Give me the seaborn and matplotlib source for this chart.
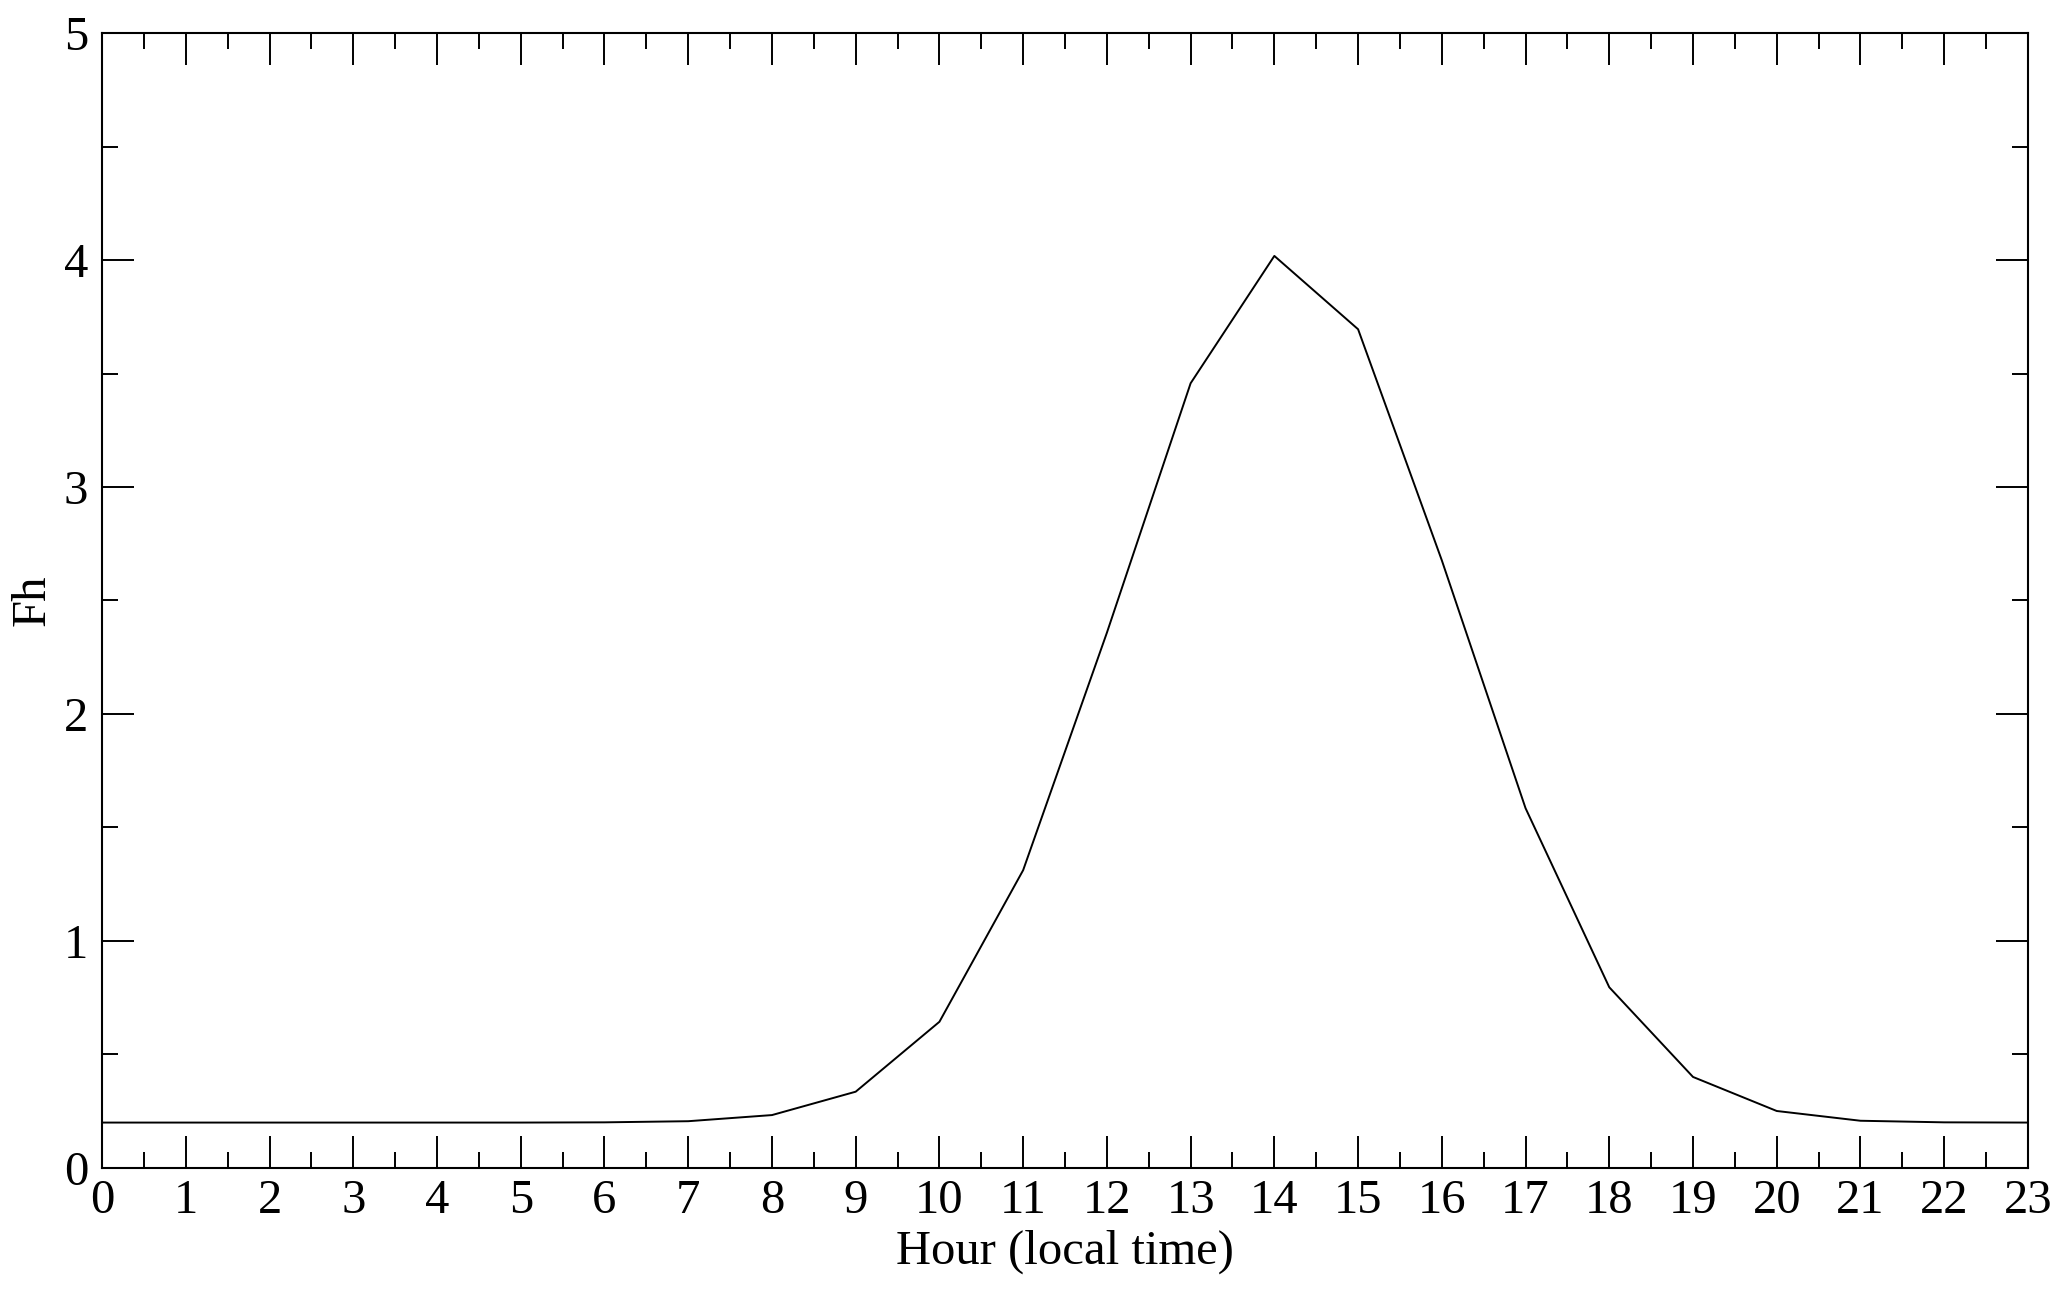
import matplotlib
matplotlib.use("Agg")
import matplotlib.pyplot as plt
from matplotlib.ticker import MultipleLocator
import seaborn as sns
import pandas as pd

hours = list(range(24))
fh = [0.20, 0.20, 0.20, 0.20, 0.20, 0.20, 0.201, 0.206, 0.233, 0.336,
      0.644, 1.312, 2.358, 3.457, 4.018, 3.695, 2.677, 1.585, 0.796, 0.401,
      0.251, 0.208, 0.201, 0.200]

df = pd.DataFrame({"Hour": hours, "Fh": fh})

sns.set_theme(style="white")
plt.rcParams['font.family'] = ['Liberation Serif', 'DejaVu Serif']
plt.rcParams['text.color'] = 'black'
plt.rcParams['axes.labelcolor'] = 'black'
plt.rcParams['xtick.color'] = 'black'
plt.rcParams['ytick.color'] = 'black'

fig = plt.figure(figsize=(20.67, 12.90), dpi=100)
ax = fig.add_axes([0.0494, 0.0946, 0.9317, 0.8798])
sns.lineplot(data=df, x="Hour", y="Fh", ax=ax, color="black", linewidth=1.4)

ax.set_xlim(0, 23)
ax.set_ylim(0, 5)
ax.xaxis.set_major_locator(MultipleLocator(1))
ax.xaxis.set_minor_locator(MultipleLocator(0.5))
ax.yaxis.set_major_locator(MultipleLocator(1))
ax.yaxis.set_minor_locator(MultipleLocator(0.5))
ax.tick_params(which="both", direction="in", top=True, right=True, bottom=True, left=True,
               color="black", labelcolor="black", width=1.4)
ax.tick_params(which="major", length=23, labelsize=35)
ax.tick_params(which="minor", length=11.5)
ax.tick_params(axis="x", which="major", pad=8)
ax.tick_params(axis="y", which="major", pad=10)
for s in ax.spines.values():
    s.set_visible(True)
    s.set_color("black")
    s.set_linewidth(1.5)
ax.set_xlabel("Hour (local time)", fontsize=35, labelpad=5, color="black")
ax.set_ylabel("Fh", fontsize=35, labelpad=7, color="black")
ax.grid(False)
fig.savefig("out.png", dpi=100, facecolor="white")
